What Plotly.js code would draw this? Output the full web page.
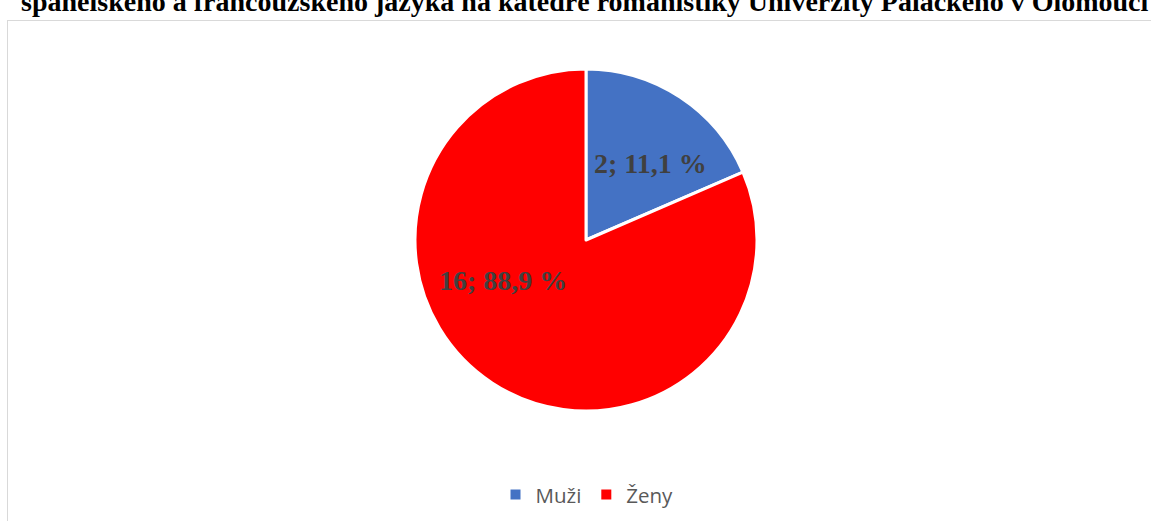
<!DOCTYPE html>
<html>
<head>
<meta charset="utf-8">
<script src="https://cdn.plot.ly/plotly-3.0.1.min.js"></script>
<style>
html,body{margin:0;padding:0;background:#fff;}
#frame{position:absolute;left:7px;top:20px;width:1150px;height:510px;border:1px solid #d9d9d9;box-sizing:border-box;}
#chart{position:absolute;left:0;top:0;width:1151px;height:521px;}
</style>
</head>
<body>
<div id="frame"></div>
<div id="chart"></div>
<script>
// Data
var categories = ["Muži", "Ženy"];
var counts = [2, 16];
var percentLabels = ["11,1 %", "88,9 %"];
// slice shares as drawn in the reference image (angle of each wedge, %)
var sliceShares = [18.5, 81.5];
var colors = ["#4472c4", "#ff0000"];
var titleText = "španělského a francouzského jazyka na katedře romanistiky Univerzity Palackého v Olomouci";

var texts = categories.map(function(c, i){ return counts[i] + "; " + percentLabels[i]; });

var W = 1151, H = 521;
var cx = 586, cy = 240, r = 171;
// label placement inside the slices (pixel offsets from the pie centre)
var labelOffsets = [[64, -77], [-83, 40]];

var trace = {
  type: "pie",
  labels: categories,
  values: sliceShares,
  text: texts,
  textinfo: "none",
  hoverinfo: "label+text",
  sort: false,
  direction: "clockwise",
  rotation: 0,
  marker: {colors: colors, line: {color: "#ffffff", width: 3}},
  domain: {x: [(cx - r) / W, (cx + r) / W], y: [1 - (cy + r) / H, 1 - (cy - r) / H]}
};

var annotations = texts.map(function(t, i){
  return {
    text: "<b>" + t + "</b>",
    xref: "paper", yref: "paper",
    x: (cx + labelOffsets[i][0]) / W,
    y: 1 - (cy + labelOffsets[i][1]) / H,
    xanchor: "center", yanchor: "middle",
    showarrow: false,
    font: {family: "Liberation Serif, Times New Roman, serif", size: 28, color: "#404040"}
  };
});

var layout = {
  width: W, height: H,
  margin: {l: 0, r: 0, t: 0, b: 0},
  paper_bgcolor: "rgba(0,0,0,0)",
  plot_bgcolor: "rgba(0,0,0,0)",
  title: {
    text: "<b>" + titleText + "</b>",
    font: {family: "Liberation Serif, Times New Roman, serif", size: 28, color: "#000000"},
    x: 0.508, xanchor: "center",
    y: 0.998, yref: "container", yanchor: "middle"
  },
  annotations: annotations,
  showlegend: true,
  legend: {
    orientation: "h",
    x: 0.51, xanchor: "center",
    y: 0.012, yanchor: "bottom",
    font: {family: "Open Sans, sans-serif", size: 20.5, color: "#595959"},
    itemsizing: "constant"
  }
};

Plotly.newPlot("chart", [trace], layout, {displayModeBar: false, staticPlot: true});
</script>
</body>
</html>
